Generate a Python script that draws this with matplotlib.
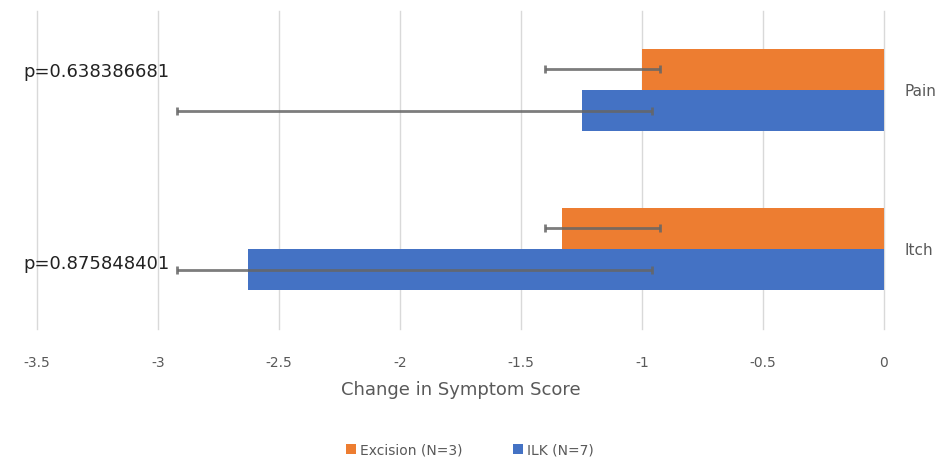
import numpy as np
import matplotlib.pyplot as plt

categories = ["Itch", "Pain"]
excision = [-1.33, -1.0]
ilk = [-2.63, -1.25]
# error bar ends (low, high) as drawn
excision_err_low = [-1.40, -1.40]
excision_err_high = [-0.926, -0.926]
ilk_err_low = [-2.92, -2.92]
ilk_err_high = [-0.96, -0.96]
p_values = ["p=0.875848401", "p=0.638386681"]
xticks = [-3.5, -3, -2.5, -2, -1.5, -1, -0.5, 0]
xtick_labels = ["-3.5", "-3", "-2.5", "-2", "-1.5", "-1", "-0.5", "0"]

orange = "#ED7D31"
blue = "#4472C4"
grey_text = "#595959"

fig = plt.figure(figsize=(9.41, 4.62), dpi=100)
ax = fig.add_axes([37 / 941, 1 - 328.5 / 462, 847 / 941, 318 / 462])

y = np.arange(len(categories))
h = 0.26

ax.barh(y + h / 2, excision, height=h, color=orange, label="Excision (N=3)", zorder=2)
ax.barh(y - h / 2, ilk, height=h, color=blue, label="ILK (N=7)", zorder=2)

# error bars drawn from their end values
for vals, lo, hi, off in [(excision, excision_err_low, excision_err_high, h / 2),
                          (ilk, ilk_err_low, ilk_err_high, -h / 2)]:
    vals = np.array(vals)
    xerr = [vals - np.array(lo), np.array(hi) - vals]
    ax.errorbar(vals, y + off, xerr=xerr, fmt="none", ecolor="#666666",
                elinewidth=2, capsize=3, capthick=2, alpha=0.85, zorder=3)

ax.set_xlim(-3.5, 0)
ax.set_ylim(-0.5, 1.5)
ax.set_xticks(xticks)
ax.set_xticklabels(xtick_labels)
ax.grid(axis="x", color="#d9d9d9", linewidth=1, zorder=0)
for gl in ax.get_xgridlines():
    gl.set_clip_on(False)
for s in ax.spines.values():
    s.set_visible(False)

ax.tick_params(axis="x", length=0, pad=20, labelsize=10, labelcolor=grey_text)
ax.yaxis.tick_right()
ax.set_yticks(y)
ax.set_yticklabels(categories)
ax.tick_params(axis="y", length=0, pad=15, labelsize=11, labelcolor=grey_text)

ax.set_xlabel("Change in Symptom Score", fontsize=13, color=grey_text, labelpad=8)

p_y = [-0.094, 1.113]
for py, txt in zip(p_y, p_values):
    ax.text(-3.558, py, txt, ha="left", va="center", fontsize=13,
            color="#222222", clip_on=False, zorder=4)

fig.legend(loc="center", bbox_to_anchor=(470 / 941, 1 - 450 / 462), ncol=2,
           frameon=False, fontsize=10, labelcolor=grey_text,
           handlelength=0.7, handleheight=0.7, handletextpad=0.3, columnspacing=3.6)

fig.savefig("out.png", dpi=100)
